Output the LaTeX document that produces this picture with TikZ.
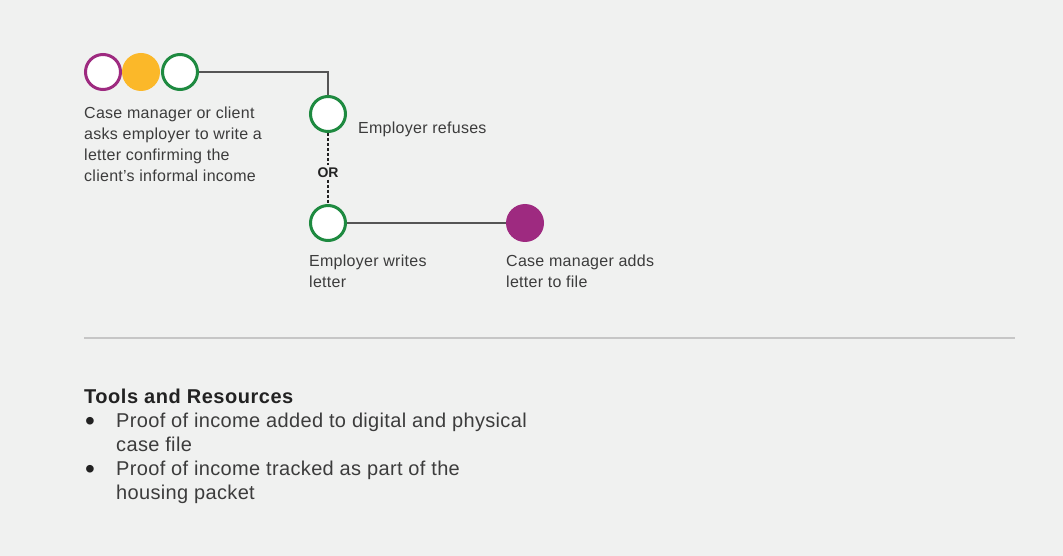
\documentclass[tikz,border=0pt]{standalone}
\usepackage{fontspec}
\setmainfont{Liberation Sans}
\definecolor{bg}{HTML}{F0F1F0}
\definecolor{mag}{HTML}{9E2A80}
\definecolor{org}{HTML}{FBB829}
\definecolor{grn}{HTML}{1E8A40}
\definecolor{txt}{HTML}{3C3C3C}
\definecolor{dark}{HTML}{222222}
\definecolor{lne}{HTML}{555555}
\definecolor{sep}{HTML}{C6C6C6}
\begin{document}
\begin{tikzpicture}[x=1pt,y=-1pt,
  ring/.style={circle,draw=#1,line width=3pt,fill=white,minimum size=35pt,inner sep=0pt},
  dot/.style={circle,fill=#1,minimum size=38pt,inner sep=0pt},
  lbl/.style={anchor=north west,inner sep=0pt,align=left,text=txt,font=\fontsize{16}{21}\selectfont\addfontfeatures{LetterSpace=1.7}},
  big/.style={anchor=north west,inner sep=0pt,align=left,text=txt,font=\fontsize{20}{24}\selectfont\addfontfeatures{LetterSpace=1.7}},
  bul/.style={anchor=base west,inner sep=0pt,text=dark,font=\fontsize{28}{30}\selectfont},
  conn/.style={draw=lne,line width=1.2pt},
  dconn/.style={draw=dark,line width=1.1pt,dash pattern=on 3pt off 2pt}]
\fill[bg] (0,0) rectangle (1063,556);
\useasboundingbox (0,0) rectangle (1063,556);
\node[ring=mag] (a1) at (103,72) {};
\node[dot=org] (a2) at (141,72) {};
\node[ring=grn] (a3) at (180,72) {};
\node[ring=grn] (b) at (328,114) {};
\node[ring=grn] (c) at (328,223) {};
\node[dot=mag] (d) at (525,223) {};
\node[text=dark,font=\fontsize{14}{15}\bfseries\selectfont,inner sep=2pt] (or) at (328,172.5) {OR};
\draw[conn] (a3.east) -| (b.north);
\draw[dconn] (b.south) -- (or.north);
\draw[dconn] (or.south) -- (c.north);
\draw[conn] (c.east) -- (d.west);
\node[lbl] (ta) at (84,107) {Case manager or client\\asks employer to write a\\letter confirming the\\client’s informal income};
\node[lbl] (tb) at (358,121.5) {Employer refuses};
\node[lbl] (tc) at (309,255) {Employer writes\\letter};
\node[lbl] (td) at (506,255) {Case manager adds\\letter to file};
\draw[draw=sep,line width=2pt] (84,338) -- (1015,338);
\node[big,text=dark,font=\fontsize{20}{24}\bfseries\selectfont\addfontfeatures{LetterSpace=2.6}] (h) at (84,388.5) {Tools and Resources};
\node[bul] (b1) at (85,430.5) {•};
\node[big] (t1) at (116,412.5) {Proof of income added to digital and physical\\case file};
\node[bul] (b2) at (85,478.5) {•};
\node[big] (t2) at (116,460.5) {Proof of income tracked as part of the\\housing packet};
\end{tikzpicture}
\end{document}
